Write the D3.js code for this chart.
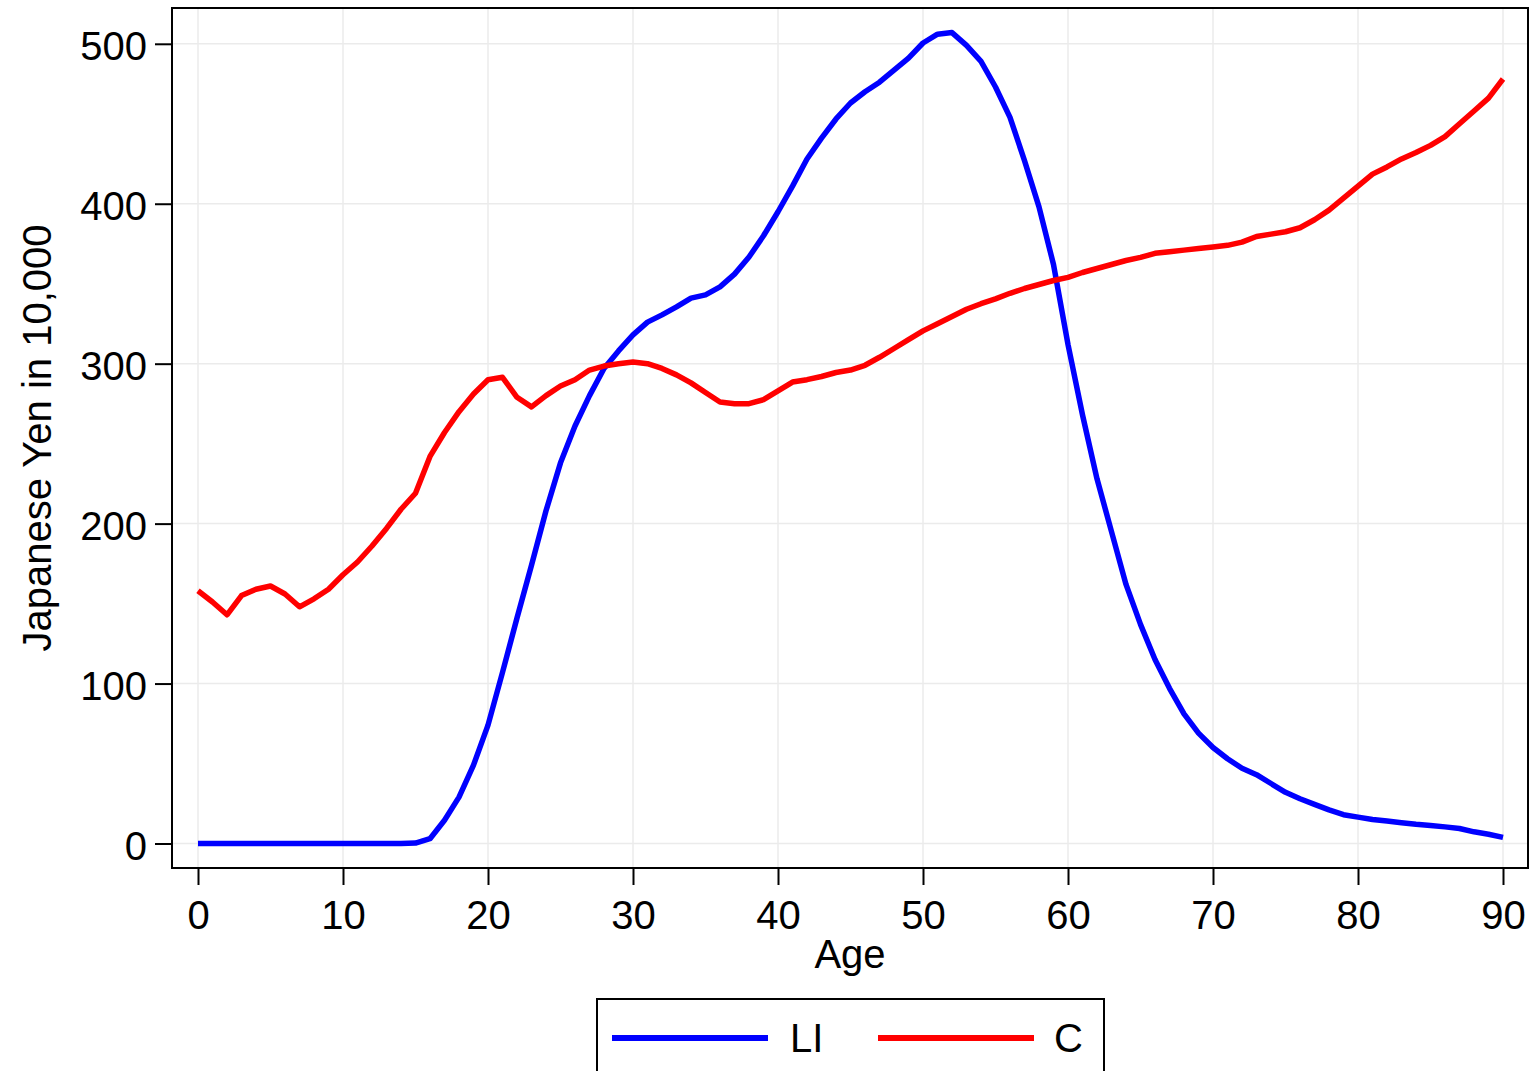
<!DOCTYPE html>
<html>
<head>
<meta charset="utf-8">
<script src="https://cdn.jsdelivr.net/npm/d3@7"></script>
<style>
  html, body { margin: 0; padding: 0; background: #fff; }
  svg { display: block; }
  text { font-family: "Liberation Sans", Arial, sans-serif; fill: #000; }
</style>
</head>
<body>
<svg id="chart" width="1534" height="1071"></svg>
<script>
// ---- data ----
const ages = d3.range(0, 91);
const LI = [
  0, 0, 0, 0, 0, 0, 0, 0, 0, 0,
  0, 0, 0, 0, 0, 0.3, 3, 14.5, 29, 49,
  74, 107, 141, 174, 208, 238, 261, 280, 297, 308,
  318, 326, 330.5, 335.5, 341, 343, 348, 356, 366.7, 380,
  395, 411, 428, 441, 453, 463, 470, 476, 483.5, 491,
  500.5, 506, 507, 499, 489, 473, 454, 427, 398, 362,
  312, 268, 228, 195, 162, 137, 115, 97, 81, 69,
  60, 53, 47, 43, 37.5, 32, 28, 24.5, 21, 18,
  16.5, 15, 14, 13, 12, 11.3, 10.4, 9.4, 7.3, 5.8,
  3.8
];
const C = [
  158, 151, 143, 155, 159, 161, 156, 148, 153, 159,
  168, 176, 186, 197, 209, 219, 242, 257, 270, 281,
  290, 291.5, 279, 273, 280, 286, 290, 296, 298.5, 300,
  301, 300, 297, 293, 288, 282, 276, 275, 275, 277.5,
  283, 288.5, 290, 292, 294.5, 296, 299, 304, 309.5, 315,
  320.5, 325, 329.5, 334, 337.5, 340.5, 344, 347, 349.5, 352,
  354, 357, 359.5, 362, 364.5, 366.5, 369, 370, 371, 372,
  373, 374, 376, 379.5, 381, 382.5, 385, 390, 396, 403.5,
  411, 418.5, 423, 428, 432, 436.5, 442, 450, 458, 466,
  478
];
const xTicks = [0, 10, 20, 30, 40, 50, 60, 70, 80, 90];
const yTicks = [0, 100, 200, 300, 400, 500];
const seriesNames = ["LI", "C"];
const seriesColors = ["#0000ff", "#ff0000"];
const xTitle = "Age";
const yTitle = "Japanese Yen in 10,000";

// ---- layout ----
const frame = { left: 172, right: 1528, top: 8, bottom: 868 };
const svg = d3.select("#chart");
const font = 40;

const x = d3.scaleLinear().domain([0, 90]).range([198, 1503]);
const y = d3.scaleLinear().domain([0, 500]).range([843.5, 43.8]);

// gridlines
const grid = svg.append("g");
grid.selectAll("line.gx").data(xTicks).join("line")
  .attr("x1", d => x(d)).attr("x2", d => x(d))
  .attr("y1", frame.top).attr("y2", frame.bottom)
  .attr("stroke", "#ebebeb").attr("stroke-width", 1.5);
grid.selectAll("line.gy").data(yTicks).join("line")
  .attr("x1", frame.left).attr("x2", frame.right)
  .attr("y1", d => y(d)).attr("y2", d => y(d))
  .attr("stroke", "#ebebeb").attr("stroke-width", 1.5);

// lines
const series = [LI, C];
const line = d3.line().x((d, i) => x(ages[i])).y(d => y(d)).curve(d3.curveLinear);
series.forEach((s, k) => {
  svg.append("path").datum(s)
    .attr("d", line)
    .attr("fill", "none")
    .attr("stroke", seriesColors[k])
    .attr("stroke-width", 5.5)
    .attr("stroke-linejoin", "round");
});

// frame
svg.append("rect")
  .attr("x", frame.left).attr("y", frame.top)
  .attr("width", frame.right - frame.left).attr("height", frame.bottom - frame.top)
  .attr("fill", "none").attr("stroke", "#000").attr("stroke-width", 2);

// axes
const yAxis = svg.append("g").attr("transform", `translate(${frame.left},0)`)
  .call(d3.axisLeft(y).tickValues(yTicks).tickSize(17).tickPadding(8).tickFormat(d3.format("d")));
yAxis.select(".domain").remove();
yAxis.selectAll(".tick line").attr("stroke", "#000").attr("stroke-width", 2);
yAxis.selectAll(".tick text").attr("font-size", font).attr("dy", "0.39em")
  .style("font-family", '"Liberation Sans", Arial, sans-serif');

const xAxis = svg.append("g").attr("transform", `translate(0,${frame.bottom})`)
  .call(d3.axisBottom(x).tickValues(xTicks).tickSize(17).tickPadding(15.5).tickFormat(d3.format("d")));
xAxis.select(".domain").remove();
xAxis.selectAll(".tick line").attr("stroke", "#000").attr("stroke-width", 2);
xAxis.selectAll(".tick text").attr("font-size", font)
  .style("font-family", '"Liberation Sans", Arial, sans-serif');

// titles
svg.append("text").attr("x", (frame.left + frame.right) / 2).attr("y", 968)
  .attr("text-anchor", "middle").attr("font-size", font).text(xTitle);
svg.append("text")
  .attr("transform", `translate(51,${(frame.top + frame.bottom) / 2}) rotate(-90)`)
  .attr("text-anchor", "middle").attr("font-size", font).text(yTitle);

// legend
const lg = svg.append("g");
lg.append("rect").attr("x", 597).attr("y", 999).attr("width", 507).attr("height", 100)
  .attr("fill", "#fff").attr("stroke", "#000").attr("stroke-width", 2);
const legendItems = [
  { x1: 612, x2: 768, tx: 790 },
  { x1: 878, x2: 1034, tx: 1054 }
];
legendItems.forEach((it, k) => {
  lg.append("line").attr("x1", it.x1).attr("x2", it.x2).attr("y1", 1038).attr("y2", 1038)
    .attr("stroke", seriesColors[k]).attr("stroke-width", 6);
  lg.append("text").attr("x", it.tx).attr("y", 1052).attr("font-size", font).text(seriesNames[k]);
});
</script>
</body>
</html>
